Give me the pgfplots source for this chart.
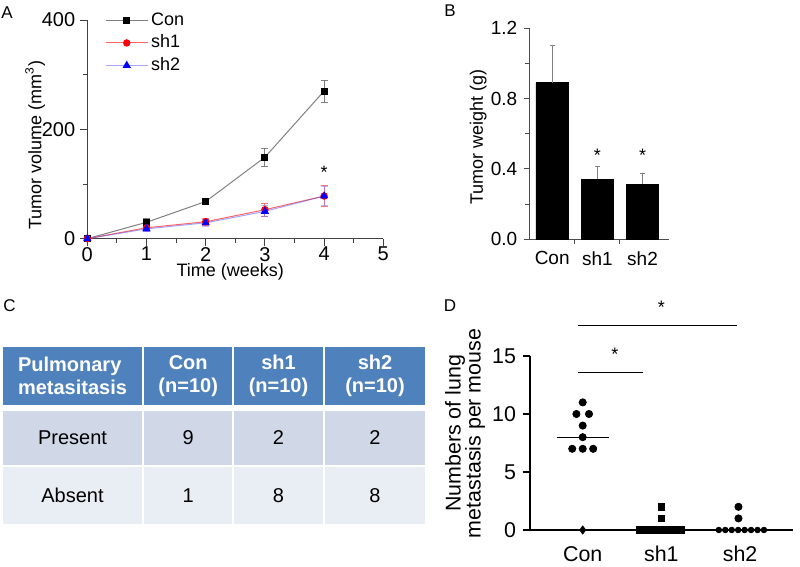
\documentclass[border=0pt]{standalone}
\usepackage{fontspec}
\setmainfont{Liberation Sans}
\usepackage{pgfplots}
\pgfplotsset{compat=1.18}

\definecolor{hdr}{HTML}{4F81BD}
\definecolor{rowa}{HTML}{D0D8E8}
\definecolor{rowb}{HTML}{E9EDF4}
\definecolor{conline}{HTML}{808080}

\newcommand\fs[1]{\fontsize{#1}{#1}\selectfont}

\pgfplotsset{
  every axis/.append style={
    scale only axis, anchor=south west, clip=false,
    axis lines*=left, tick align=outside,
    font=\fs{9}, /pgf/number format/assume math mode=true,
    major tick length=3.5pt, minor tick length=2pt,
  },
}

\begin{document}
\begin{tikzpicture}
\path[use as bounding box] (0,0) rectangle (400pt,283.5pt);

% panel letters
\node[font=\fs{8.5}] at (3.5pt,277pt) {A};
\node[font=\fs{8.5}] at (225pt,278pt) {B};
\node[font=\fs{8.5}] at (4.75pt,130.5pt) {C};
\node[font=\fs{8.5}] at (225pt,130.5pt) {D};

% ---- A: tumour volume
\begin{axis}[
  at={(43.65pt,164.15pt)}, width=148pt, height=109.35pt,
  xmin=0, xmax=5, ymin=0, ymax=400,
  xtick={0,...,5}, ytick={0,200,400},
  minor x tick num=1, minor y tick num=1,
  axis line style={black!75, line width=0.5pt},
  tick style={black!75, line width=0.5pt},
  ticklabel style={font=\fs{10}},
  xticklabel style={inner ysep=0pt, yshift=-0.5pt},
  yticklabel style={xshift=1pt},
  xlabel={Time (weeks)}, ylabel={Tumor volume (mm\textsuperscript{3})},
  xlabel style={at={(axis description cs:0.483,0)}, anchor=center, inner ysep=0pt, yshift=-16.8pt},
  ylabel style={at={(axis description cs:-0.176,0.428)}, anchor=center},
  legend style={at={(axis description cs:0.06,1.041)}, anchor=north west,
    draw=none, fill=none, inner sep=0pt, row sep=2.25pt,
    nodes={inner ysep=0pt, inner xsep=1.5pt, text height=7pt, text depth=2pt}, font=\fs{9}},
  legend cell align=left,
  legend image code/.code={\draw[mark repeat=2,mark phase=2,#1]
    plot coordinates {(0pt,0pt) (10.4pt,0pt) (20.8pt,0pt)};},
]
\addplot[conline, line width=0.5pt, mark=square*, mark size=1.5pt,
  mark options={black, fill=black},
  error bars/.cd, y dir=both, y explicit,
  error bar style={conline, line width=0.4pt},
  error mark options={rotate=90, conline, mark size=1.75pt}]
  coordinates {(0,0) +- (0,0) (1,30) +- (0,7) (2,68) +- (0,3) (3,149) +- (0,17) (4,270) +- (0,20)};
\addplot[red!60, line width=0.5pt, mark=*, mark size=1.6pt,
  mark options={red, fill=red},
  error bars/.cd, y dir=both, y explicit,
  error bar style={red!55, line width=0.4pt},
  error mark options={rotate=90, red!55, mark size=1.75pt}]
  coordinates {(0,0) +- (0,0) (1,20) +- (0,4) (2,31) +- (0,7) (3,53) +- (0,12) (4,78) +- (0,19)};
\addplot[blue!70, line width=0.5pt, opacity=0.5, mark=triangle*, mark size=1.9pt,
  mark options={blue, fill=blue, opacity=1},
  error bars/.cd, y dir=both, y explicit,
  error bar style={blue!55, line width=0.4pt},
  error mark options={rotate=90, blue!55, mark size=1.75pt}]
  coordinates {(0,0) +- (0,0) (1,18) +- (0,4) (2,29) +- (0,6) (3,50) +- (0,10) (4,78) +- (0,18)};
\legend{Con,sh1,sh2}
\node[yshift=-2pt] at (axis cs:4,128) {*};
\end{axis}

% ---- B: tumour weight
\begin{axis}[
  at={(264.65pt,163.85pt)}, width=69.85pt, height=105.5pt,
  xmin=-0.507, xmax=2.586, ymin=0, ymax=1.2,
  ytick={0,0.4,0.8,1.2}, minor y tick num=1,
  yticklabel style={/pgf/number format/.cd, fixed, fixed zerofill, precision=1},
  ticklabel style={font=\fs{9.5}},
  xtick={0.5,1.5}, xticklabels={},
  extra x ticks={0,1,2}, extra x tick labels={Con,sh1,sh2},
  extra x tick style={tick style={draw=none}},
  major tick length=2.5pt,
  axis line style={black!70, line width=0.6pt},
  tick style={black!70, line width=0.5pt},
  ylabel={Tumor weight (g)},
  ylabel style={at={(axis description cs:-0.365,0.486)}, anchor=center},
]
\addplot[ybar, bar width=16.25pt, bar shift=0pt, fill=black, draw=black,
  error bars/.cd, y dir=plus, y explicit,
  error bar style={black!50, line width=0.5pt},
  error mark options={rotate=90, black!50, mark size=1.2pt}]
  coordinates {(0,0.89) +- (0,0.21) (1,0.341) +- (0,0.076) (2,0.313) +- (0,0.06)};
\node[yshift=-2pt] at (axis cs:1,0.498) {*};
\node[yshift=-2pt] at (axis cs:2,0.498) {*};
\end{axis}

% ---- C: table
\fill[hdr]  (1.65pt,81pt)  rectangle (70.85pt,110pt);
\fill[hdr]  (72pt,81pt)    rectangle (116.15pt,110pt);
\fill[hdr]  (117.15pt,81pt) rectangle (161.35pt,110pt);
\fill[hdr]  (162.5pt,81pt) rectangle (212.5pt,110pt);
\fill[rowa] (1.65pt,51pt)  rectangle (70.85pt,78pt);
\fill[rowa] (72pt,51pt)    rectangle (116.15pt,78pt);
\fill[rowa] (117.15pt,51pt) rectangle (161.35pt,78pt);
\fill[rowa] (162.5pt,51pt) rectangle (212.5pt,78pt);
\fill[rowb] (1.65pt,21.5pt) rectangle (70.85pt,50pt);
\fill[rowb] (72pt,21.5pt)   rectangle (116.15pt,50pt);
\fill[rowb] (117.15pt,21.5pt) rectangle (161.35pt,50pt);
\fill[rowb] (162.5pt,21.5pt) rectangle (212.5pt,50pt);
\begin{scope}[every node/.style={font=\fontsize{10}{11.2}\selectfont\bfseries, text=white}]
\node[align=left]   at (36.25pt,95.5pt)  {Pulmonary\\metasitasis};
\node[align=center] at (94.1pt,95.5pt)   {Con\\(n=10)};
\node[align=center] at (139.25pt,95.5pt) {sh1\\(n=10)};
\node[align=center] at (187.5pt,95.5pt)  {sh2\\(n=10)};
\end{scope}
\begin{scope}[every node/.style={font=\fs{10}}]
\node at (36.25pt,64.5pt) {Present};
\node at (94.1pt,64.5pt) {9};
\node at (139.25pt,64.5pt) {2};
\node at (187.5pt,64.5pt) {2};
\node at (36.25pt,35.75pt) {Absent};
\node at (94.1pt,35.75pt) {1};
\node at (139.25pt,35.75pt) {8};
\node at (187.5pt,35.75pt) {8};
\end{scope}

% ---- D: lung metastasis
\begin{axis}[
  at={(265pt,18.5pt)}, width=131.5pt, height=87pt,
  xmin=-0.67, xmax=2.673, ymin=0, ymax=15,
  ytick={0,5,10,15}, xtick={0,1,2}, xticklabels={Con,sh1,sh2},
  x tick style={draw=none},
  xticklabel style={yshift=-1pt},
  font=\fs{10.7},
  axis line style={black, line width=0.7pt},
  tick style={black, line width=0.7pt},
  ylabel={Numbers of lung\\metastasis per mouse},
  ylabel style={align=center, at={(axis description cs:-0.247,0.555)}, anchor=center,
    font=\fontsize{10.7}{10}\selectfont},
]
% Con
\addplot[only marks, mark=*, mark size=1.8pt, black]
  coordinates {(0,11) (-0.08,10) (0.08,10) (0,9) (0,8) (-0.133,7) (0,7) (0.133,7)};
\addplot[only marks, mark=diamond*, mark size=2pt, black] coordinates {(0,0)};
% sh1
\addplot[only marks, mark=square*, mark size=1.7pt, black]
  coordinates {(1,2) (1,1) (0.724,0) (0.8,0) (0.876,0) (0.951,0) (1.027,0) (1.103,0) (1.178,0) (1.254,0)};
% sh2
\addplot[only marks, mark=*, mark size=1.8pt, black] coordinates {(1.98,2) (1.98,1)};
\addplot[only marks, mark=*, mark size=1.4pt, black]
  coordinates {(1.73,0) (1.812,0) (1.894,0) (1.976,0) (2.058,0) (2.14,0) (2.222,0) (2.304,0)};
% medians
\addplot[black, line width=0.6pt] coordinates {(-0.33,8) (0.33,8)};
\addplot[black, line width=0.6pt] coordinates {(0.7,0) (1.3,0)};
\addplot[black, line width=0.6pt] coordinates {(1.7,0) (2.3,0)};
% significance
\addplot[black, line width=0.5pt] coordinates {(-0.056,13.6) (0.77,13.6)};
\addplot[black, line width=0.5pt] coordinates {(-0.056,17.67) (1.964,17.67)};
\node[font=\fs{9}, yshift=-2pt] at (axis cs:0.41,15.5) {*};
\node[font=\fs{9}, yshift=-2pt] at (axis cs:1.0,19.57) {*};
\end{axis}
\end{tikzpicture}
\end{document}
